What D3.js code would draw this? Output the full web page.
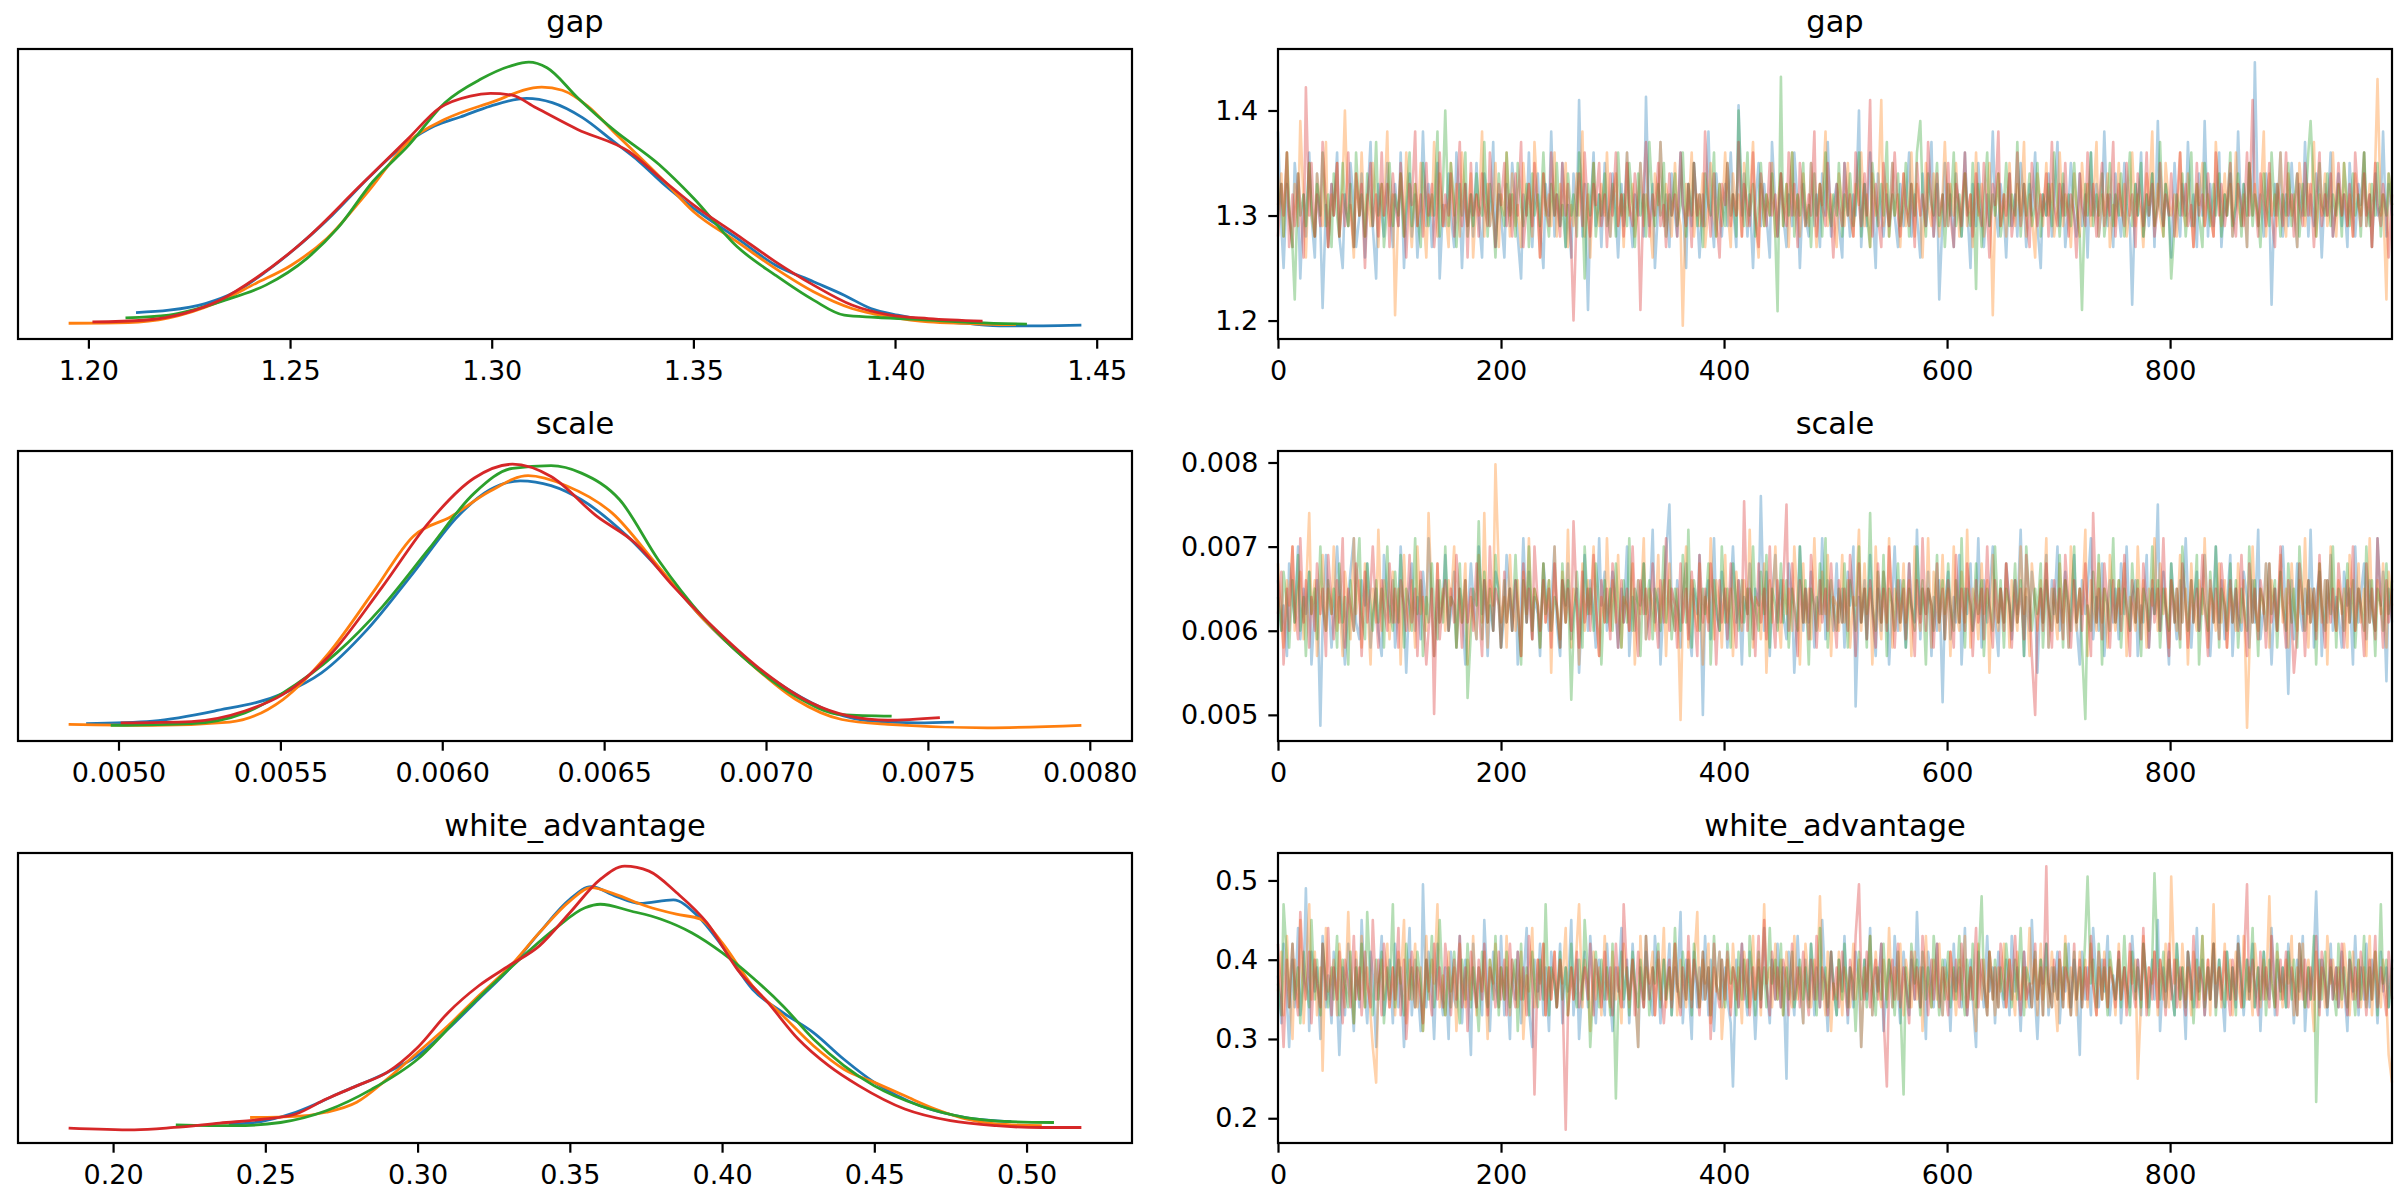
<!DOCTYPE html>
<html>
<head>
<meta charset="utf-8">
<script src="https://cdn.jsdelivr.net/npm/d3@7"></script>
<style>
  html, body { margin: 0; padding: 0; background: #fff; }
  svg { display: block; }
  text { font-family: "DejaVu Sans", sans-serif; fill: #000; }
</style>
</head>
<body>
<svg id="chart" width="2400" height="1200"></svg>
<script>
// ---------------- DATA ----------------
const paramNames = ["gap", "scale", "white_advantage"];
const chainColors = ["#1f77b4", "#ff7f0e", "#2ca02c", "#d62728"];
const nDraws = 1000;

// KDE curves per chain: [value, density]
const gapKde0 = [[1.2118,0.67],[1.220,0.78],[1.229,1.09],[1.2365,1.64],[1.244,2.58],[1.2504,3.52],[1.2605,5.23],[1.2694,6.95],[1.2795,8.67],[1.2858,9.38],[1.2922,9.80],[1.2997,10.31],[1.3086,10.67],[1.315,10.47],[1.3225,9.77],[1.3301,8.67],[1.3365,7.73],[1.3428,6.64],[1.35,5.55],[1.3608,4.14],[1.3703,2.89],[1.3798,2.11],[1.3874,1.48],[1.394,0.86],[1.4007,0.55],[1.4083,0.31],[1.4177,0.16],[1.4272,0.05],[1.4367,0.05],[1.4462,0.08]];
const gapKde1 = [[1.1951,0.17],[1.2099,0.20],[1.220,0.42],[1.2314,1.09],[1.2415,2.03],[1.2504,2.89],[1.2592,4.14],[1.2694,6.33],[1.2795,8.67],[1.2884,9.69],[1.2997,10.47],[1.3124,11.2],[1.3175,11.05],[1.3238,10.31],[1.3301,9.14],[1.3428,6.8],[1.35,5.39],[1.3608,3.98],[1.3703,2.73],[1.3798,1.64],[1.3893,0.86],[1.3988,0.47],[1.4083,0.23],[1.4177,0.16],[1.4272,0.11],[1.430,0.11]];
const gapKde2 = [[1.2092,0.42],[1.220,0.55],[1.2339,1.25],[1.244,1.95],[1.2542,3.2],[1.2618,4.61],[1.2706,6.8],[1.2795,8.5],[1.2884,10.47],[1.2972,11.56],[1.3048,12.19],[1.3092,12.36],[1.3137,12.1],[1.3213,10.7],[1.3301,9.22],[1.3415,7.58],[1.35,6.02],[1.3608,3.75],[1.3703,2.42],[1.3798,1.25],[1.3874,0.55],[1.395,0.45],[1.41,0.31],[1.42,0.2],[1.4327,0.13]];
const gapKde3 = [[1.201,0.23],[1.2137,0.31],[1.2238,0.63],[1.2327,1.25],[1.2415,2.27],[1.2542,4.14],[1.2668,6.48],[1.2795,8.83],[1.2871,10.23],[1.2947,10.78],[1.2997,10.9],[1.3048,10.83],[1.311,10.23],[1.3213,9.22],[1.3339,8.2],[1.3428,6.8],[1.35,5.7],[1.3608,4.3],[1.3703,3.05],[1.3798,1.95],[1.3893,1.02],[1.3988,0.55],[1.4083,0.39],[1.4217,0.27]];

const scaleKde0 = [[0.00490,23],[0.005106,33],[0.005296,72],[0.005508,140],[0.005627,221],[0.005768,390],[0.00591,611],[0.006052,838],[0.006147,936],[0.006241,971],[0.006336,952],[0.00643,897],[0.006572,754],[0.00669,598],[0.006808,429],[0.006927,286],[0.007068,156],[0.00721,65],[0.007328,33],[0.00747,26],[0.00758,29]];
const scaleKde1 = [[0.004846,20],[0.005106,16],[0.005343,29],[0.005508,117],[0.00565,299],[0.005792,546],[0.00591,754],[0.006028,832],[0.006147,930],[0.006265,991],[0.006383,952],[0.006525,845],[0.006667,637],[0.006808,429],[0.00695,260],[0.007092,117],[0.007234,39],[0.007376,20],[0.007683,6.5],[0.007974,16]];
const scaleKde2 = [[0.004976,16],[0.005225,23],[0.00539,65],[0.005508,143],[0.005674,299],[0.005816,481],[0.005957,702],[0.006099,923],[0.006217,1020],[0.006336,1030],[0.00643,1001],[0.006548,897],[0.006667,663],[0.006808,435],[0.00695,260],[0.007092,130],[0.007234,58],[0.007388,52]];
const scaleKde3 = [[0.005007,26],[0.005225,31],[0.00539,72],[0.005508,137],[0.00565,286],[0.005816,559],[0.005957,806],[0.006099,982],[0.006217,1036],[0.006336,988],[0.006478,832],[0.006596,728],[0.006714,559],[0.006856,377],[0.006997,221],[0.007139,104],[0.007257,52],[0.007376,36],[0.007537,46]];

const waKde0 = [[0.238,0.23],[0.245,0.26],[0.26,0.63],[0.275,1.31],[0.29,1.99],[0.30,2.56],[0.31,3.47],[0.32,4.49],[0.33,5.51],[0.34,6.76],[0.35,7.9],[0.357,8.33],[0.365,8.01],[0.373,7.76],[0.384,7.88],[0.392,7.33],[0.40,6.31],[0.41,4.83],[0.42,4.03],[0.43,3.35],[0.44,2.44],[0.45,1.65],[0.465,0.85],[0.48,0.45],[0.495,0.31]];
const waKde1 = [[0.245,0.45],[0.26,0.49],[0.27,0.63],[0.28,0.97],[0.29,1.76],[0.30,2.67],[0.31,3.58],[0.32,4.6],[0.33,5.57],[0.34,6.76],[0.35,7.84],[0.357,8.3],[0.365,8.07],[0.375,7.67],[0.385,7.39],[0.393,7.22],[0.40,6.42],[0.41,4.94],[0.42,3.92],[0.43,2.9],[0.44,2.1],[0.45,1.65],[0.46,1.19],[0.47,0.74],[0.48,0.4],[0.49,0.23],[0.505,0.17]];
const waKde2 = [[0.2206,0.2],[0.24,0.17],[0.255,0.28],[0.27,0.68],[0.285,1.42],[0.30,2.44],[0.315,4.03],[0.33,5.51],[0.345,6.88],[0.355,7.61],[0.36,7.73],[0.37,7.5],[0.38,7.22],[0.39,6.76],[0.40,6.08],[0.41,5.23],[0.42,4.26],[0.43,3.13],[0.44,2.22],[0.45,1.53],[0.465,0.85],[0.48,0.45],[0.495,0.31],[0.509,0.28]];
const waKde3 = [[0.1854,0.09],[0.207,0.03],[0.22,0.11],[0.235,0.26],[0.25,0.4],[0.26,0.57],[0.27,1.08],[0.28,1.53],[0.29,1.99],[0.30,2.84],[0.31,4.03],[0.32,4.94],[0.33,5.63],[0.34,6.31],[0.35,7.44],[0.36,8.58],[0.368,9.03],[0.376,8.86],[0.385,8.13],[0.395,7.1],[0.405,5.51],[0.415,4.38],[0.425,3.13],[0.435,2.22],[0.445,1.53],[0.46,0.74],[0.475,0.34],[0.49,0.17],[0.505,0.11],[0.518,0.11]];

const gapTrace0 = [1.38,1.29,1.25,1.33,1.30,1.27,1.35,1.31,1.24,1.32,1.28,1.36,1.30,1.26,1.34,1.29,1.212,1.31,1.27,1.33,
1.30,1.36,1.28,1.25,1.32,1.29,1.35,1.31,1.27,1.30,1.34,1.26,1.31,1.37,1.29,1.24,1.33,1.30,1.28,1.35,
1.31,1.27,1.33,1.29,1.36,1.25,1.30,1.34,1.28,1.32,1.26,1.31,1.38,1.29,1.33,1.27,1.30,1.35,1.24,1.31,
1.29,1.34,1.30,1.27,1.36,1.31,1.25,1.33,1.29,1.32,1.28,1.35,1.30,1.26,1.34,1.31,1.29,1.37,1.27,1.32,
1.30,1.26,1.33,1.29,1.35,1.31,1.28,1.24,1.32,1.30,1.36,1.27,1.31,1.34,1.29,1.25,1.33,1.30,1.38,1.28,
1.32,1.29,1.35,1.27,1.31,1.26,1.34,1.30,1.41,1.28,1.33,1.21,1.30,1.36,1.29,1.32,1.27,1.35,1.31,1.28,
1.34,1.30,1.26,1.33,1.29,1.36,1.31,1.27,1.32,1.30,1.35,1.28,1.413,1.29,1.33,1.25,1.31,1.37,1.29,1.32,
1.27,1.34,1.30,1.28,1.36,1.31,1.25,1.33,1.29,1.35,1.30,1.26,1.32,1.29,1.38,1.31,1.27,1.34,1.30,1.28,
1.33,1.29,1.36,1.31,1.27,1.405,1.30,1.34,1.28,1.32,1.25,1.31,1.35,1.29,1.33,1.30,1.26,1.37,1.31,1.28,
1.34,1.30,1.27,1.32,1.29,1.36,1.31,1.25,1.33,1.30,1.28,1.35,1.29,1.32,1.27,1.34,1.30,1.37,1.28,1.31,
1.33,1.29,1.26,1.35,1.31,1.28,1.32,1.30,1.40,1.27,1.33,1.29,1.36,1.31,1.25,1.34,1.30,1.28,1.32,1.29,
1.35,1.30,1.27,1.33,1.29,1.31,1.36,1.28,1.32,1.30,1.26,1.34,1.29,1.31,1.37,1.28,1.33,1.22,1.30,1.35,
1.29,1.32,1.27,1.34,1.30,1.28,1.36,1.31,1.25,1.33,1.29,1.35,1.30,1.27,1.32,1.29,1.38,1.31,1.28,1.33,
1.30,1.26,1.34,1.29,1.32,1.28,1.35,1.31,1.27,1.33,1.30,1.36,1.29,1.25,1.32,1.30,1.34,1.28,1.31,1.37,
1.29,1.33,1.27,1.31,1.35,1.30,1.28,1.34,1.29,1.32,1.26,1.36,1.30,1.33,1.28,1.31,1.38,1.29,1.32,1.27,
1.34,1.30,1.28,1.35,1.31,1.29,1.215,1.33,1.30,1.36,1.28,1.32,1.29,1.34,1.27,1.39,1.31,1.29,1.33,1.30,
1.26,1.35,1.31,1.28,1.33,1.30,1.37,1.29,1.32,1.27,1.34,1.30,1.39,1.28,1.33,1.29,1.31,1.36,1.27,1.32,
1.30,1.34,1.28,1.31,1.38,1.29,1.33,1.27,1.35,1.30,1.446,1.29,1.32,1.28,1.34,1.31,1.215,1.33,1.30,1.36,
1.28,1.32,1.29,1.35,1.31,1.27,1.33,1.30,1.37,1.28,1.32,1.29,1.34,1.31,1.26,1.33,1.30,1.36,1.28,1.31,
1.34,1.29,1.32,1.27,1.35,1.30,1.28,1.33,1.31,1.36,1.29,1.32,1.27,1.34,1.30,1.31,1.38,1.28,1.33,1.30];
const gapTrace1 = [1.31,1.34,1.28,1.36,1.30,1.27,1.33,1.29,1.39,1.31,1.26,1.35,1.30,1.28,1.34,1.31,1.29,1.37,1.27,1.32,
1.30,1.35,1.28,1.33,1.40,1.29,1.31,1.26,1.34,1.30,1.36,1.28,1.32,1.29,1.35,1.31,1.27,1.33,1.30,1.38,
1.29,1.32,1.205,1.31,1.34,1.28,1.36,1.30,1.27,1.33,1.29,1.35,1.31,1.26,1.32,1.30,1.37,1.28,1.34,1.29,
1.31,1.27,1.35,1.30,1.33,1.28,1.36,1.31,1.29,1.34,1.26,1.32,1.30,1.38,1.28,1.33,1.29,1.31,1.35,1.27,
1.32,1.30,1.36,1.28,1.34,1.29,1.31,1.27,1.35,1.30,1.33,1.28,1.37,1.31,1.26,1.34,1.30,1.32,1.29,1.36,
1.28,1.33,1.30,1.35,1.27,1.31,1.29,1.34,1.30,1.38,1.28,1.32,1.26,1.35,1.31,1.29,1.33,1.30,1.36,1.28,
1.31,1.34,1.29,1.32,1.27,1.36,1.30,1.33,1.28,1.31,1.35,1.29,1.32,1.30,1.26,1.34,1.31,1.37,1.29,1.33,
1.30,1.28,1.35,1.31,1.29,1.195,1.33,1.30,1.36,1.28,1.32,1.29,1.34,1.27,1.31,1.35,1.30,1.28,1.33,1.29,
1.36,1.31,1.27,1.34,1.30,1.32,1.28,1.35,1.29,1.31,1.37,1.30,1.26,1.33,1.29,1.32,1.30,1.35,1.28,1.31,
1.34,1.29,1.33,1.27,1.36,1.30,1.32,1.28,1.34,1.31,1.29,1.35,1.30,1.27,1.33,1.31,1.38,1.29,1.32,1.30,
1.27,1.34,1.31,1.29,1.35,1.30,1.28,1.33,1.31,1.36,1.29,1.32,1.27,1.34,1.30,1.31,1.41,1.29,1.33,1.28,
1.35,1.30,1.32,1.27,1.34,1.29,1.31,1.36,1.28,1.33,1.30,1.26,1.35,1.31,1.29,1.34,1.30,1.28,1.32,1.37,
1.29,1.33,1.30,1.35,1.28,1.31,1.34,1.29,1.32,1.27,1.36,1.30,1.33,1.28,1.31,1.35,1.205,1.30,1.34,1.29,
1.32,1.28,1.35,1.31,1.29,1.33,1.30,1.37,1.28,1.32,1.30,1.26,1.34,1.31,1.29,1.35,1.30,1.33,1.28,1.31,
1.36,1.29,1.32,1.30,1.27,1.34,1.31,1.28,1.35,1.30,1.33,1.29,1.31,1.37,1.28,1.32,1.30,1.34,1.27,1.31,
1.29,1.35,1.30,1.33,1.28,1.31,1.36,1.29,1.32,1.30,1.27,1.34,1.31,1.38,1.29,1.33,1.30,1.28,1.35,1.31,
1.30,1.32,1.28,1.36,1.31,1.29,1.34,1.30,1.27,1.33,1.31,1.35,1.29,1.32,1.30,1.28,1.37,1.31,1.29,1.34,
1.30,1.33,1.28,1.36,1.31,1.29,1.32,1.27,1.35,1.30,1.33,1.29,1.31,1.38,1.28,1.34,1.30,1.32,1.29,1.36,
1.31,1.28,1.34,1.30,1.32,1.27,1.35,1.31,1.29,1.33,1.30,1.37,1.28,1.32,1.30,1.34,1.29,1.31,1.36,1.28,
1.33,1.30,1.35,1.29,1.32,1.28,1.34,1.31,1.30,1.36,1.29,1.33,1.27,1.35,1.43,1.30,1.32,1.22,1.34,1.31];
const gapTrace2 = [1.30,1.33,1.28,1.36,1.31,1.27,1.22,1.34,1.30,1.32,1.29,1.35,1.31,1.28,1.33,1.30,1.36,1.29,1.32,1.27,
1.34,1.30,1.28,1.35,1.31,1.29,1.33,1.27,1.36,1.30,1.32,1.28,1.34,1.31,1.29,1.37,1.30,1.33,1.27,1.31,
1.35,1.29,1.32,1.30,1.34,1.28,1.31,1.36,1.29,1.33,1.30,1.27,1.35,1.31,1.29,1.32,1.30,1.38,1.28,1.33,
1.40,1.29,1.35,1.31,1.27,1.33,1.30,1.36,1.28,1.32,1.29,1.34,1.31,1.30,1.37,1.28,1.33,1.30,1.26,1.34,
1.31,1.29,1.36,1.30,1.32,1.28,1.35,1.31,1.29,1.33,1.27,1.34,1.30,1.32,1.29,1.36,1.31,1.28,1.33,1.30,
1.35,1.29,1.31,1.27,1.34,1.30,1.32,1.28,1.36,1.31,1.24,1.33,1.30,1.35,1.28,1.32,1.30,1.34,1.29,1.31,
1.33,1.28,1.36,1.30,1.32,1.29,1.35,1.31,1.27,1.34,1.30,1.32,1.28,1.37,1.31,1.29,1.33,1.30,1.35,1.28,
1.32,1.30,1.34,1.29,1.31,1.36,1.28,1.33,1.30,1.35,1.29,1.32,1.27,1.34,1.31,1.30,1.36,1.28,1.33,1.31,
1.29,1.35,1.30,1.32,1.28,1.40,1.31,1.29,1.36,1.30,1.33,1.28,1.31,1.35,1.29,1.32,1.30,1.34,1.28,1.209,
1.432,1.29,1.33,1.30,1.36,1.28,1.32,1.30,1.35,1.29,1.31,1.27,1.34,1.30,1.33,1.28,1.36,1.31,1.29,1.32,
1.30,1.35,1.28,1.32,1.30,1.34,1.29,1.31,1.36,1.28,1.33,1.30,1.27,1.35,1.31,1.29,1.33,1.30,1.37,1.28,
1.32,1.30,1.34,1.29,1.31,1.35,1.28,1.33,1.30,1.36,1.39,1.32,1.28,1.34,1.31,1.30,1.35,1.29,1.32,1.27,
1.33,1.30,1.36,1.29,1.32,1.28,1.34,1.31,1.29,1.35,1.23,1.33,1.27,1.31,1.36,1.29,1.32,1.30,1.34,1.28,
1.31,1.35,1.29,1.32,1.30,1.37,1.28,1.33,1.30,1.34,1.29,1.31,1.35,1.28,1.32,1.30,1.33,1.29,1.36,1.31,
1.28,1.34,1.30,1.32,1.29,1.35,1.31,1.28,1.21,1.33,1.30,1.36,1.29,1.32,1.30,1.34,1.28,1.31,1.35,1.29,
1.32,1.30,1.34,1.28,1.31,1.36,1.29,1.33,1.30,1.35,1.28,1.32,1.30,1.34,1.29,1.31,1.37,1.28,1.33,1.30,
1.24,1.29,1.32,1.30,1.34,1.28,1.31,1.36,1.29,1.33,1.30,1.27,1.35,1.31,1.29,1.33,1.30,1.34,1.28,1.32,
1.30,1.36,1.29,1.31,1.34,1.28,1.33,1.30,1.35,1.29,1.32,1.30,1.27,1.34,1.31,1.29,1.36,1.30,1.33,1.28,
1.32,1.30,1.35,1.29,1.31,1.34,1.28,1.33,1.30,1.36,1.39,1.32,1.28,1.35,1.31,1.30,1.34,1.29,1.32,1.30,
1.33,1.28,1.35,1.31,1.29,1.34,1.30,1.32,1.28,1.36,1.31,1.29,1.33,1.30,1.35,1.28,1.32,1.30,1.34,1.31];
const gapTrace3 = [1.28,1.33,1.30,1.36,1.27,1.32,1.29,1.34,1.31,1.26,1.422,1.30,1.35,1.28,1.32,1.29,1.37,1.31,1.27,1.33,
1.30,1.35,1.28,1.32,1.29,1.36,1.31,1.27,1.34,1.30,1.33,1.25,1.31,1.35,1.29,1.32,1.28,1.36,1.30,1.33,
1.27,1.34,1.31,1.29,1.35,1.30,1.26,1.33,1.31,1.38,1.29,1.32,1.28,1.35,1.30,1.33,1.27,1.31,1.36,1.29,
1.32,1.30,1.34,1.28,1.31,1.37,1.29,1.33,1.26,1.35,1.30,1.32,1.28,1.34,1.31,1.29,1.36,1.30,1.27,1.33,
1.31,1.35,1.29,1.32,1.28,1.34,1.30,1.37,1.27,1.31,1.33,1.29,1.35,1.30,1.26,1.34,1.31,1.29,1.36,1.30,
1.32,1.28,1.35,1.30,1.33,1.27,1.20,1.31,1.34,1.29,1.36,1.30,1.28,1.33,1.31,1.35,1.29,1.32,1.27,1.34,
1.30,1.36,1.29,1.32,1.28,1.35,1.31,1.29,1.34,1.30,1.21,1.33,1.37,1.28,1.32,1.30,1.35,1.29,1.31,1.27,
1.34,1.30,1.32,1.28,1.36,1.31,1.29,1.33,1.27,1.35,1.30,1.32,1.29,1.38,1.31,1.28,1.34,1.30,1.26,1.33,
1.31,1.35,1.29,1.32,1.30,1.37,1.28,1.33,1.31,1.29,1.36,1.30,1.27,1.34,1.31,1.29,1.35,1.30,1.32,1.28,
1.34,1.31,1.29,1.36,1.30,1.33,1.27,1.35,1.31,1.29,1.32,1.30,1.38,1.28,1.33,1.31,1.29,1.35,1.30,1.26,
1.33,1.31,1.29,1.35,1.30,1.32,1.28,1.36,1.31,1.29,1.34,1.30,1.41,1.28,1.33,1.30,1.27,1.35,1.31,1.29,
1.32,1.36,1.30,1.28,1.34,1.31,1.29,1.33,1.27,1.35,1.30,1.32,1.29,1.37,1.31,1.28,1.34,1.30,1.32,1.29,
1.35,1.30,1.27,1.33,1.31,1.29,1.36,1.30,1.32,1.28,1.34,1.31,1.29,1.35,1.30,1.26,1.33,1.31,1.38,1.29,
1.32,1.30,1.34,1.28,1.31,1.36,1.29,1.33,1.30,1.27,1.35,1.31,1.29,1.32,1.30,1.34,1.28,1.37,1.31,1.29,
1.33,1.30,1.35,1.28,1.32,1.30,1.26,1.34,1.31,1.29,1.36,1.30,1.33,1.28,1.31,1.35,1.29,1.32,1.30,1.37,
1.28,1.33,1.31,1.29,1.35,1.30,1.32,1.27,1.34,1.31,1.29,1.36,1.30,1.33,1.28,1.31,1.35,1.29,1.32,1.30,
1.34,1.28,1.31,1.36,1.30,1.33,1.29,1.31,1.27,1.35,1.30,1.32,1.29,1.34,1.31,1.28,1.36,1.30,1.33,1.29,
1.31,1.35,1.30,1.28,1.33,1.31,1.29,1.36,1.30,1.41,1.32,1.28,1.34,1.31,1.29,1.35,1.30,1.27,1.33,1.31,
1.29,1.36,1.30,1.32,1.28,1.34,1.31,1.29,1.35,1.30,1.33,1.27,1.31,1.36,1.29,1.32,1.30,1.34,1.28,1.31,
1.35,1.30,1.32,1.29,1.33,1.28,1.36,1.31,1.29,1.34,1.30,1.32,1.27,1.35,1.31,1.29,1.33,1.30,1.26,1.32];

const scaleTrace0 = [.0066,.0060,.0063,.0057,.0068,.0064,.0061,.0070,.0059,.0065,.0062,.0067,.0056,.0063,.0066,.00487,.0061,.0069,.0064,.0058,
.0062,.0070,.0065,.0060,.0056,.0064,.0067,.0071,.0061,.0059,.0066,.0063,.0068,.0058,.0062,.0065,.0060,.0057,.0069,.0064,
.0061,.0066,.0058,.0063,.0070,.0062,.0055,.0065,.0068,.0060,.0064,.0059,.0067,.0062,.0071,.0063,.0057,.0066,.0061,.0064,
.0069,.0060,.0062,.0067,.0058,.0065,.0063,.0056,.0061,.0068,.0064,.0059,.0070,.0062,.0066,.0057,.0063,.0060,.0067,.0065,
.0058,.0062,.0069,.0064,.0060,.0066,.0056,.0063,.0071,.0061,.0067,.0059,.0064,.0062,.0057,.0068,.0065,.0060,.0063,.0070,
.0061,.0057,.0066,.0063,.0068,.0059,.0062,.0065,.0055,.0064,.0069,.0060,.0066,.0062,.0058,.0071,.0063,.0067,.0060,.0064,
.0067,.0062,.0058,.0065,.0061,.0070,.0057,.0064,.0060,.0066,.0063,.0068,.0059,.0062,.0072,.0061,.0065,.0056,.0064,.0069,
.0075,.0063,.0060,.0066,.0058,.0064,.0068,.0061,.0057,.0065,.0062,.0069,.00500,.0063,.0066,.0059,.0071,.0062,.0060,.0067,
.0063,.0058,.0065,.0070,.0061,.0066,.0056,.0064,.0062,.0068,.0059,.0065,.0063,.0076,.0060,.0067,.0057,.0064,.0069,.0061,
.0066,.0062,.0059,.0068,.0064,.0055,.0063,.0070,.0060,.0065,.0061,.0067,.0058,.0064,.0062,.0071,.0059,.0066,.0063,.0060,
.0068,.0061,.0065,.0058,.0067,.0063,.0070,.00510,.0064,.0061,.0066,.0059,.0069,.0062,.0057,.0065,.0060,.0067,.0063,.0056,
.0064,.0070,.0060,.0066,.0062,.0058,.0068,.0063,.0061,.0072,.0059,.0065,.0062,.0067,.0057,.0064,.0060,.0066,.00515,.0063,
.0067,.0059,.0064,.0061,.0069,.0056,.0065,.0062,.0068,.0060,.0063,.0071,.0058,.0066,.0061,.0064,.0070,.0062,.0057,.0065,
.0061,.0068,.0063,.0059,.0066,.0062,.0072,.0057,.0064,.0060,.0067,.0063,.0055,.0065,.0061,.0069,.0058,.0066,.0062,.0070,
.0060,.0064,.0067,.0058,.0063,.0069,.0061,.0056,.0066,.0062,.0065,.0071,.0059,.0064,.0060,.0068,.0057,.0063,.0066,.0061,
.0065,.0059,.0068,.0062,.0070,.0060,.0064,.0066,.0057,.0063,.0061,.0069,.0058,.0065,.0062,.0075,.0060,.0067,.0063,.0056,
.0068,.0062,.0059,.0066,.0061,.0071,.0064,.0058,.0063,.0067,.0060,.0065,.0069,.0062,.0057,.0064,.0070,.0061,.0066,.0059,
.0063,.0069,.0057,.0065,.0062,.0060,.0067,.0064,.0058,.0066,.0061,.0072,.0059,.0063,.0068,.0062,.0056,.0065,.0060,.0067,
.0070,.0061,.00525,.0066,.0059,.0068,.0063,.0060,.0065,.0062,.0072,.0058,.0064,.0067,.0057,.0066,.0061,.0069,.0060,.0064,
.0062,.0058,.0067,.0063,.0065,.0056,.0070,.0061,.0064,.0068,.0059,.0066,.0062,.0060,.0071,.0063,.0067,.0054,.0065,.0061];
const scaleTrace1 = [.0068,.0061,.0058,.0066,.0063,.0070,.0060,.0065,.0067,.0059,.0064,.0074,.0062,.0066,.0057,.0063,.0069,.0060,.0065,.0062,
.0070,.0060,.0064,.0057,.0067,.0063,.0059,.0071,.0062,.0066,.0058,.0068,.0064,.0056,.0065,.0061,.0072,.0060,.0066,.0063,
.0059,.0067,.0061,.0065,.0056,.0069,.0063,.0060,.0066,.0058,.0070,.0062,.0064,.0060,.0074,.0063,.0057,.0068,.0061,.0065,
.0060,.0066,.0063,.0070,.0058,.0065,.0061,.0068,.0056,.0064,.0062,.0059,.0069,.0061,.0074,.0058,.0066,.0063,.00798,.0067,
.0061,.0064,.0058,.0069,.0063,.0060,.0066,.0057,.0067,.0062,.0071,.0059,.0065,.0063,.0058,.0068,.0061,.0066,.0055,.0070,
.0063,.0059,.0067,.0061,.0072,.0058,.0065,.0063,.0056,.0068,.0060,.0066,.0062,.0070,.0063,.0057,.0064,.0061,.0071,.0060,
.0066,.0061,.0069,.0058,.0064,.0063,.0060,.0068,.0056,.0066,.0062,.0071,.0059,.0065,.0063,.0060,.0069,.0061,.0066,.0057,
.0068,.0063,.0060,.0065,.00494,.0062,.0070,.0058,.0066,.0063,.0060,.0068,.0056,.0064,.0061,.0071,.0059,.0066,.0063,.0058,
.0069,.0061,.0065,.0057,.0067,.0063,.0060,.0066,.0062,.0072,.0058,.0064,.0063,.0059,.0068,.0055,.0066,.0061,.0070,.0063,
.0058,.0066,.0062,.0065,.0060,.0070,.0063,.0056,.0068,.0061,.0065,.0059,.0071,.0063,.0060,.0067,.0062,.0069,.0057,.0064,
.0063,.0060,.0069,.0061,.0066,.0058,.0064,.0063,.0072,.0060,.0068,.0062,.0065,.0056,.0070,.0063,.0059,.0067,.0061,.0071,
.0058,.0065,.0063,.0060,.0068,.0061,.0066,.0057,.0070,.0063,.0060,.0065,.0062,.0071,.0058,.0067,.0063,.0060,.0069,.0062,
.0065,.0057,.0070,.0063,.0060,.0067,.0061,.0072,.0058,.0065,.0063,.0059,.0068,.0062,.0066,.0055,.0069,.0063,.0060,.0065,
.0061,.0068,.0058,.0066,.0063,.0060,.0070,.0062,.0065,.0057,.0068,.0063,.0060,.0066,.0061,.0071,.0058,.0065,.0063,.0059,
.0068,.0061,.0066,.0058,.0070,.0063,.0060,.0065,.0062,.0072,.0057,.0066,.0063,.0060,.0068,.0061,.0065,.0058,.0069,.0063,
.0060,.0066,.0062,.0068,.0057,.0064,.0063,.0060,.0070,.0061,.0066,.0058,.0065,.0063,.0071,.0060,.0068,.0062,.0065,.0058,
.0066,.0063,.0060,.0069,.0061,.0065,.0056,.0068,.0063,.0060,.0066,.0062,.0071,.0058,.0065,.0063,.0060,.0068,.0061,.0066,
.0058,.0065,.0063,.0060,.0068,.0061,.0066,.004846,.0057,.0070,.0063,.0060,.0065,.0062,.0068,.0058,.0066,.0063,.0060,.0069,
.0061,.0065,.0058,.0068,.0063,.0060,.0066,.0062,.0071,.0058,.0065,.0063,.0060,.0068,.0061,.0066,.0056,.0070,.0063,.0060,
.0066,.0062,.0065,.0058,.0069,.0063,.0060,.0068,.0061,.0065,.0057,.0071,.0063,.0060,.0066,.0062,.0068,.0058,.0067,.0063];
const scaleTrace2 = [.0064,.0060,.0067,.0063,.0058,.0066,.0061,.0069,.0060,.0064,.0057,.0067,.0062,.0065,.0059,.0070,.0063,.0060,.0066,.0062,
.0065,.0058,.0068,.0061,.0064,.0056,.0066,.0060,.0065,.0071,.0062,.0059,.0068,.0063,.0060,.0066,.0061,.0065,.0058,.0070,
.0063,.0060,.0067,.0061,.0069,.0058,.0065,.0063,.0060,.0071,.0062,.0066,.0057,.0064,.0061,.0068,.0063,.0059,.0066,.0061,
.0070,.0060,.0064,.0063,.0058,.0068,.0061,.0066,.00520,.0060,.0065,.0063,.0073,.0059,.0067,.0061,.0065,.0060,.0069,.0063,
.0058,.0066,.0061,.0065,.0060,.0069,.0063,.0056,.0066,.0061,.0070,.0060,.0065,.0063,.0058,.0068,.0062,.0066,.0060,.0064,
.0063,.0058,.0068,.0061,.0066,.00518,.0060,.0067,.0063,.0058,.0070,.0062,.0065,.0060,.0068,.0063,.0056,.0066,.0061,.0065,
.0060,.0068,.0063,.0058,.0066,.0061,.0071,.0060,.0065,.0063,.0057,.0068,.0062,.0066,.0059,.0065,.0063,.0060,.0070,.0061,
.0066,.0059,.0065,.0063,.0060,.0069,.0061,.0072,.0058,.0066,.0063,.0060,.0065,.0062,.0068,.0056,.0066,.0063,.0060,.0070,
.0061,.0065,.0058,.0068,.0063,.0060,.0066,.0061,.0065,.0057,.0070,.0063,.0060,.0067,.0062,.0069,.0058,.0065,.0063,.0060,
.0068,.0061,.0066,.0058,.0065,.0063,.0060,.0070,.0061,.0066,.0056,.0065,.0063,.0060,.0068,.0062,.0071,.0058,.0066,.0063,
.0060,.0065,.0061,.0068,.0058,.0066,.0063,.0060,.0070,.0061,.0065,.0058,.0074,.0063,.0060,.0067,.0061,.0069,.0057,.0065,
.0063,.0060,.0068,.0061,.0066,.0058,.0065,.0063,.0060,.0070,.0062,.0066,.0056,.0065,.0063,.0060,.0069,.0061,.0066,.0059,
.0068,.0063,.0060,.0066,.0061,.0071,.0058,.0065,.0063,.0060,.0068,.0062,.0066,.0057,.0065,.0063,.0060,.0070,.0061,.0066,
.0058,.0065,.0063,.0060,.0068,.0061,.0066,.0057,.0070,.0063,.0060,.0065,.0062,.0068,.0058,.0066,.0063,.0060,.0065,.0061,
.0069,.0058,.0066,.0063,.0060,.0070,.0061,.0065,.0058,.00495,.0063,.0060,.0067,.0061,.0069,.0056,.0065,.0063,.0060,.0071,
.0061,.0066,.0058,.0065,.0063,.0060,.0068,.0061,.0066,.0057,.0065,.0063,.0060,.0070,.0062,.0066,.0058,.0065,.0063,.0060,
.0068,.0061,.0065,.0058,.0070,.0063,.0060,.0066,.0061,.0069,.0056,.0065,.0063,.0060,.0067,.0061,.0070,.0058,.0065,.0063,
.0060,.0068,.0061,.0066,.0058,.0065,.0063,.0060,.0070,.0061,.0066,.0057,.0065,.0063,.0060,.0068,.0062,.0066,.0058,.0067,
.0063,.0060,.0068,.0061,.0065,.0058,.0070,.0063,.0060,.0066,.0061,.0065,.0056,.0068,.0063,.0060,.0066,.0062,.0070,.0058,
.0065,.0063,.0060,.0068,.0061,.0066,.0058,.0065,.0063,.0060,.0070,.0061,.0066,.0057,.0065,.0063,.0060,.0068,.0062,.0066];
const scaleTrace3 = [.0062,.0067,.0056,.0065,.0060,.0070,.0063,.0059,.0071,.0061,.0066,.0058,.0064,.0060,.0068,.0062,.0065,.0057,.0069,.0063,
.0059,.0066,.0061,.0071,.0058,.0065,.0063,.0060,.0068,.0064,.0057,.0067,.0061,.0065,.0070,.0062,.0058,.0066,.0063,.0060,
.0068,.0061,.0065,.0058,.0066,.0063,.0060,.0069,.0061,.0065,.0057,.0067,.0063,.0056,.0060,.0065,.00501,.0068,.0059,.0064,
.0066,.0060,.0065,.0061,.0069,.0063,.0058,.0066,.0061,.0065,.0060,.0068,.0063,.0057,.0066,.0061,.0070,.0060,.0065,.0063,
.0058,.0067,.0061,.0065,.0060,.0066,.0063,.0057,.0068,.0061,.0065,.0059,.0070,.0063,.0060,.0066,.0061,.0065,.0058,.0068,
.0063,.0058,.0066,.0061,.0065,.0060,.0073,.0063,.0058,.0067,.0061,.0065,.0060,.0069,.0063,.0057,.0066,.0061,.0065,.0059,
.0068,.0063,.0058,.0066,.0061,.0065,.0060,.0070,.0063,.0057,.0066,.0062,.0065,.0059,.0068,.0063,.0058,.0066,.0061,.0071,
.0060,.0065,.0063,.0058,.0068,.0061,.0065,.0059,.0067,.0063,.0057,.0069,.0061,.0065,.0060,.0068,.0063,.0056,.0066,.0061,
.0065,.0059,.0068,.0063,.0058,.0066,.0061,.00754,.0060,.0065,.0063,.0057,.0068,.0061,.0065,.0059,.0070,.0063,.0058,.0066,
.0061,.0065,.0075,.0060,.0068,.0063,.0057,.0066,.0061,.0065,.0059,.0069,.0063,.0058,.0066,.0061,.0065,.0060,.0068,.0063,
.0058,.0066,.0061,.0065,.0060,.0069,.0063,.0057,.0068,.0061,.0065,.0059,.0066,.0063,.0058,.0068,.0061,.0065,.0060,.0070,
.0063,.0058,.0066,.0061,.0065,.0059,.0068,.0063,.0057,.0066,.0061,.0071,.0060,.0065,.0063,.0058,.0068,.0061,.0065,.0059,
.0066,.0063,.0058,.0069,.0061,.0065,.0060,.0068,.0063,.0057,.0066,.0061,.0065,.0059,.0070,.0063,.0058,.0066,.0061,.0065,
.0060,.0068,.0063,.0058,.0066,.0061,.0065,.0059,.0069,.0063,.0057,.00500,.0061,.0065,.0060,.0068,.0063,.0058,.0066,.0061,
.0065,.0059,.0069,.0063,.0058,.0066,.0061,.0065,.0060,.0068,.0063,.0057,.0074,.0061,.0065,.0059,.0068,.0063,.0058,.0066,
.0061,.0065,.0060,.0069,.0063,.0057,.0066,.0061,.0065,.0059,.0068,.0063,.0058,.0066,.0061,.0065,.0060,.0071,.0063,.0057,
.0066,.0061,.0065,.0059,.0068,.0063,.0058,.0066,.0061,.0065,.0060,.0069,.0063,.0057,.0066,.0061,.0065,.0059,.0068,.0063,
.0058,.0066,.0061,.0065,.0060,.0069,.0063,.0057,.0068,.0061,.0065,.0059,.0066,.0063,.0058,.0068,.0061,.0065,.0060,.0070,
.0063,.0058,.0066,.0061,.0055,.0060,.0068,.0063,.0057,.0066,.0061,.0065,.0059,.0069,.0063,.0058,.0066,.0061,.0065,.0060,
.0068,.0063,.0058,.0066,.0061,.0070,.0060,.0065,.0063,.0057,.0068,.0061,.0065,.0059,.0071,.0063,.0058,.0066,.0061,.0065];

const waTrace0 = [.38,.32,.42,.35,.29,.40,.34,.44,.33,.37,.49,.31,.41,.36,.39,.30,.43,.34,.38,.32,
.41,.35,.28,.39,.33,.42,.37,.31,.40,.34,.45,.36,.32,.41,.38,.29,.36,.43,.33,.37,
.40,.32,.42,.34,.39,.29,.36,.44,.33,.40,.37,.31,.495,.34,.41,.36,.30,.42,.37,.33,
.39,.30,.41,.35,.34,.43,.32,.40,.37,.28,.42,.34,.39,.33,.45,.36,.31,.41,.37,.34,
.43,.33,.39,.30,.40,.35,.41,.32,.37,.44,.34,.29,.40,.36,.42,.33,.39,.31,.41,.37,
.34,.42,.32,.39,.36,.45,.33,.40,.30,.37,.41,.34,.43,.36,.32,.40,.37,.33,.42,.35,
.31,.39,.36,.44,.34,.40,.32,.42,.37,.29,.39,.34,.41,.36,.33,.43,.37,.32,.40,.35,
.42,.33,.39,.36,.46,.32,.40,.37,.30,.41,.34,.39,.35,.43,.33,.40,.31,.37,.41,.34,
.39,.35,.32,.24,.40,.34,.42,.37,.33,.41,.36,.30,.39,.34,.44,.37,.32,.40,.35,.42,
.34,.39,.25,.41,.36,.33,.43,.37,.32,.40,.35,.42,.33,.39,.34,.45,.36,.31,.41,.37,
.33,.40,.36,.43,.32,.39,.34,.41,.37,.29,.40,.35,.44,.33,.39,.36,.42,.31,.37,.40,
.34,.43,.36,.32,.41,.37,.33,.40,.35,.46,.34,.39,.30,.41,.37,.34,.42,.36,.33,.40,
.37,.31,.42,.36,.39,.34,.44,.33,.40,.35,.29,.41,.37,.34,.43,.36,.39,.32,.41,.37,
.34,.40,.33,.43,.36,.39,.31,.41,.37,.34,.45,.35,.30,.40,.37,.42,.33,.39,.36,.41,
.32,.39,.36,.42,.34,.40,.37,.28,.41,.35,.39,.33,.44,.37,.34,.40,.36,.43,.33,.38,
.35,.41,.32,.39,.37,.34,.43,.36,.40,.33,.42,.37,.34,.40,.35,.45,.31,.39,.36,.41,
.37,.33,.42,.35,.39,.30,.41,.37,.34,.44,.36,.40,.33,.39,.35,.42,.34,.40,.37,.31,
.41,.35,.39,.34,.43,.37,.33,.40,.36,.42,.34,.39,.31,.41,.37,.35,.44,.33,.40,.36,
.39,.34,.42,.37,.32,.40,.36,.43,.31,.39,.35,.41,.486,.34,.40,.37,.33,.42,.35,.39,
.34,.41,.37,.31,.40,.36,.43,.33,.39,.35,.42,.34,.40,.37,.32,.41,.36,.39,.34,.40];
const waTrace1 = [.36,.41,.33,.43,.37,.30,.40,.34,.45,.32,.38,.47,.35,.41,.33,.39,.26,.44,.36,.38,
.40,.33,.42,.37,.34,.46,.38,.32,.41,.35,.43,.34,.39,.33,.29,.245,.37,.40,.35,.42,
.34,.39,.33,.41,.37,.45,.32,.40,.35,.42,.34,.39,.31,.43,.36,.40,.37,.47,.34,.38,
.33,.41,.36,.39,.31,.42,.37,.34,.40,.35,.43,.33,.39,.36,.41,.30,.40,.37,.42,.34,
.39,.35,.43,.33,.40,.37,.34,.41,.30,.38,.36,.44,.34,.40,.37,.42,.33,.39,.35,.41,
.34,.40,.37,.44,.33,.39,.35,.42,.47,.34,.40,.37,.31,.41,.35,.39,.33,.43,.37,.34,
.41,.35,.39,.32,.42,.37,.34,.40,.36,.29,.43,.34,.39,.37,.41,.33,.40,.35,.44,.34,
.39,.35,.42,.33,.40,.37,.34,.41,.35,.39,.46,.34,.40,.37,.42,.32,.39,.36,.41,.30,
.37,.40,.34,.42,.35,.39,.32,.41,.37,.34,.43,.35,.40,.33,.47,.37,.39,.34,.42,.35,
.40,.33,.41,.37,.34,.43,.35,.39,.32,.42,.37,.34,.40,.35,.48,.38,.33,.41,.31,.37,
.35,.41,.33,.39,.37,.34,.42,.35,.40,.29,.39,.36,.43,.33,.41,.37,.34,.40,.35,.44,
.34,.39,.35,.42,.33,.40,.37,.34,.41,.35,.39,.31,.43,.37,.34,.40,.35,.42,.33,.39,
.35,.41,.37,.33,.40,.35,.43,.34,.39,.37,.31,.42,.35,.40,.34,.41,.37,.33,.39,.36,
.42,.34,.40,.37,.33,.41,.35,.39,.34,.44,.37,.40,.33,.42,.35,.39,.34,.41,.37,.31,
.40,.35,.43,.34,.39,.37,.33,.41,.35,.40,.34,.42,.37,.33,.39,.35,.41,.34,.40,.37,
.33,.42,.35,.39,.34,.41,.37,.40,.25,.35,.43,.34,.39,.37,.41,.33,.40,.35,.42,.34,
.505,.37,.40,.34,.42,.35,.39,.33,.41,.37,.34,.43,.35,.40,.33,.47,.37,.39,.34,.42,
.35,.40,.33,.41,.37,.34,.43,.35,.39,.33,.42,.37,.34,.40,.35,.48,.38,.34,.41,.37,
.34,.40,.37,.43,.33,.39,.35,.42,.34,.40,.37,.31,.41,.35,.39,.34,.43,.37,.40,.35,
.39,.34,.42,.37,.33,.41,.35,.40,.34,.39,.35,.43,.33,.41,.37,.34,.40,.35,.28,.245];
const waTrace2 = [.37,.33,.47,.40,.34,.42,.35,.39,.32,.41,.37,.34,.45,.35,.40,.33,.42,.37,.34,.39,
.35,.43,.33,.40,.37,.34,.41,.32,.39,.35,.42,.34,.46,.37,.33,.40,.35,.41,.32,.39,
.35,.47,.34,.40,.37,.33,.42,.35,.39,.34,.41,.37,.31,.40,.35,.43,.34,.39,.45,.35,
.33,.39,.34,.41,.37,.32,.40,.35,.42,.34,.39,.35,.31,.41,.37,.34,.40,.35,.43,.33,
.39,.35,.41,.34,.37,.40,.31,.42,.35,.39,.33,.41,.37,.34,.40,.35,.47,.33,.39,.37,
.34,.41,.35,.39,.33,.42,.37,.34,.40,.35,.45,.38,.29,.37,.41,.34,.40,.35,.39,.33,
.42,.225,.34,.41,.35,.39,.33,.41,.37,.34,.40,.35,.43,.33,.39,.37,.42,.34,.40,.35,
.39,.33,.44,.37,.34,.41,.35,.40,.33,.42,.37,.34,.41,.35,.39,.33,.43,.37,.35,.40,
.34,.42,.37,.39,.33,.41,.35,.40,.34,.43,.37,.33,.41,.35,.39,.34,.44,.37,.40,.35,
.42,.33,.39,.35,.41,.34,.37,.40,.35,.39,.34,.42,.37,.33,.44,.35,.39,.34,.41,.37,
.33,.40,.35,.42,.34,.39,.37,.31,.41,.35,.40,.34,.43,.37,.33,.39,.35,.42,.34,.40,
.37,.33,.41,.35,.23,.39,.34,.42,.37,.40,.33,.41,.35,.39,.34,.43,.37,.33,.40,.35,
.41,.34,.39,.35,.43,.37,.33,.40,.35,.42,.34,.39,.48,.37,.33,.41,.35,.40,.34,.39,
.35,.42,.37,.34,.40,.35,.44,.33,.39,.37,.34,.41,.35,.40,.33,.42,.37,.34,.39,.35,
.40,.34,.42,.37,.33,.41,.35,.39,.34,.43,.505,.37,.40,.34,.42,.35,.39,.33,.41,.37,
.35,.40,.34,.43,.37,.33,.41,.35,.39,.34,.42,.37,.33,.40,.509,.39,.35,.41,.34,.40,
.37,.33,.42,.35,.39,.34,.41,.37,.32,.40,.35,.43,.34,.39,.35,.42,.33,.40,.37,.34,
.41,.35,.39,.33,.42,.37,.34,.40,.35,.44,.34,.39,.35,.41,.33,.40,.37,.34,.42,.35,
.39,.34,.41,.35,.40,.33,.42,.37,.34,.39,.35,.43,.2206,.40,.35,.41,.34,.39,.37,.33,
.42,.35,.39,.34,.41,.37,.33,.40,.35,.43,.34,.39,.35,.41,.33,.47,.37,.40,.34,.39];
const waTrace3 = [.42,.35,.29,.40,.34,.42,.37,.33,.46,.38,.35,.41,.32,.40,.37,.34,.42,.35,.44,.33,
.39,.35,.41,.32,.40,.37,.34,.43,.35,.39,.33,.41,.37,.34,.45,.35,.40,.33,.42,.37,
.34,.39,.35,.44,.33,.40,.30,.37,.41,.34,.39,.35,.32,.40,.37,.33,.42,.35,.39,.34,
.42,.37,.33,.40,.35,.43,.34,.39,.31,.41,.37,.34,.40,.35,.42,.33,.39,.37,.34,.41,
.35,.40,.33,.42,.37,.34,.41,.35,.39,.33,.43,.37,.23,.40,.35,.42,.33,.39,.35,.41,
.34,.40,.37,.1854,.33,.39,.35,.41,.34,.37,.39,.35,.42,.33,.40,.37,.34,.41,.35,.39,
.33,.42,.37,.34,.47,.38,.35,.40,.33,.41,.37,.34,.43,.35,.39,.33,.41,.37,.32,.36,
.40,.34,.42,.37,.33,.39,.35,.43,.34,.40,.37,.33,.41,.35,.39,.30,.42,.37,.34,.40,
.35,.41,.33,.39,.37,.34,.42,.35,.40,.33,.39,.35,.43,.34,.45,.37,.33,.41,.35,.39,
.34,.40,.37,.33,.42,.35,.39,.34,.41,.37,.33,.40,.35,.43,.34,.39,.37,.33,.41,.35,
.39,.34,.41,.37,.33,.40,.35,.43,.495,.38,.35,.41,.34,.37,.40,.35,.42,.33,.24,.37,
.40,.35,.42,.34,.39,.37,.32,.41,.35,.39,.34,.43,.37,.33,.40,.35,.42,.34,.39,.37,
.33,.41,.35,.40,.34,.42,.37,.33,.39,.35,.44,.34,.40,.37,.33,.41,.35,.39,.34,.42,
.37,.34,.40,.35,.43,.38,.33,.41,.35,.37,.34,.42,.35,.39,.33,.518,.37,.34,.40,.35,
.41,.34,.39,.37,.33,.42,.35,.40,.34,.39,.35,.43,.37,.33,.41,.35,.40,.34,.39,.37,
.34,.41,.35,.39,.33,.42,.37,.34,.40,.35,.44,.33,.39,.35,.41,.34,.40,.37,.33,.42,
.35,.40,.34,.39,.37,.33,.41,.35,.43,.34,.39,.37,.33,.40,.35,.42,.34,.39,.35,.41,
.37,.33,.40,.35,.42,.34,.39,.495,.35,.40,.37,.33,.41,.35,.39,.34,.43,.37,.33,.40,
.35,.41,.34,.39,.37,.33,.42,.35,.40,.34,.39,.35,.43,.33,.41,.37,.34,.40,.35,.39,
.34,.42,.37,.33,.40,.35,.39,.34,.41,.37,.33,.40,.35,.43,.34,.39,.37,.33,.41,.35];

// Tick labels
const gapKdeTicks = [1.20, 1.25, 1.30, 1.35, 1.40, 1.45];
const scaleKdeTicks = [0.0050, 0.0055, 0.0060, 0.0065, 0.0070, 0.0075, 0.0080];
const waKdeTicks = [0.20, 0.25, 0.30, 0.35, 0.40, 0.45, 0.50];
const gapTraceTicks = [1.2, 1.3, 1.4];
const scaleTraceTicks = [0.005, 0.006, 0.007, 0.008];
const waTraceTicks = [0.2, 0.3, 0.4, 0.5];
const drawTicks = [0, 200, 400, 600, 800];

// ---------------- DRAW ----------------
const panels = [
  { name: paramNames[0], kde: [gapKde0, gapKde1, gapKde2, gapKde3], trace: [gapTrace0, gapTrace1, gapTrace2, gapTrace3],
    kdeTicks: gapKdeTicks, kdeFmt: d3.format(".2f"), traceTicks: gapTraceTicks, traceFmt: d3.format(".1f") },
  { name: paramNames[1], kde: [scaleKde0, scaleKde1, scaleKde2, scaleKde3], trace: [scaleTrace0, scaleTrace1, scaleTrace2, scaleTrace3],
    kdeTicks: scaleKdeTicks, kdeFmt: d3.format(".4f"), traceTicks: scaleTraceTicks, traceFmt: d3.format(".3f") },
  { name: paramNames[2], kde: [waKde0, waKde1, waKde2, waKde3], trace: [waTrace0, waTrace1, waTrace2, waTrace3],
    kdeTicks: waKdeTicks, kdeFmt: d3.format(".2f"), traceTicks: waTraceTicks, traceFmt: d3.format(".1f") }
];

const svg = d3.select("#chart");
const L = { x0: 18, x1: 1132 }, R = { x0: 1278, x1: 2392 };
const rowTops = [49, 451, 853], panelH = 290;
const tickFont = 27, titleFont = 30.5, spineW = 2.2, tickLen = 9.7;

function padExtent(ext, f = 0.05) {
  const r = ext[1] - ext[0];
  return [ext[0] - r * f, ext[1] + r * f];
}

function frame(g, x0, y0, w, h) {
  g.append("rect").attr("x", x0).attr("y", y0).attr("width", w).attr("height", h)
    .attr("fill", "none").attr("stroke", "#000").attr("stroke-width", spineW);
}

function styleAxis(g) {
  g.select(".domain").remove();
  g.selectAll(".tick line").attr("stroke", "#000").attr("stroke-width", spineW);
  g.selectAll(".tick text").attr("font-size", tickFont).attr("font-family", "DejaVu Sans, sans-serif").attr("fill", "#000");
}

panels.forEach((p, i) => {
  const top = rowTops[i], bottom = top + panelH;

  // ---- KDE panel ----
  const allK = p.kde.flat();
  const xK = d3.scaleLinear().domain(padExtent(d3.extent(allK, d => d[0]))).range([L.x0, L.x1]);
  const yK = d3.scaleLinear().domain(padExtent(d3.extent(allK, d => d[1]))).range([bottom, top]);
  const gK = svg.append("g");
  const lineK = d3.line().x(d => xK(d[0])).y(d => yK(d[1])).curve(d3.curveMonotoneX);
  p.kde.forEach((c, ci) => {
    gK.append("path").attr("d", lineK(c)).attr("fill", "none")
      .attr("stroke", chainColors[ci]).attr("stroke-width", 2.8).attr("stroke-linejoin", "round");
  });
  const axK = svg.append("g").attr("transform", `translate(0,${bottom})`)
    .call(d3.axisBottom(xK).tickValues(p.kdeTicks).tickFormat(p.kdeFmt).tickSize(tickLen).tickPadding(12));
  styleAxis(axK);
  frame(svg, L.x0, top, L.x1 - L.x0, panelH);
  svg.append("text").attr("x", (L.x0 + L.x1) / 2).attr("y", top - 17)
    .attr("text-anchor", "middle").attr("font-size", titleFont).text(p.name);

  // ---- Trace panel ----
  const allT = p.trace.flat();
  const xT = d3.scaleLinear().domain([0, nDraws - 1]).range([R.x0, R.x1]);
  const yT = d3.scaleLinear().domain(padExtent(d3.extent(allT))).range([bottom, top]);
  const gT = svg.append("g");
  p.trace.forEach((c, ci) => {
    const n = c.length;
    const lineT = d3.line().x((d, k) => xT(Math.round(k * (nDraws - 1) / (n - 1)))).y(d => yT(d));
    gT.append("path").attr("d", lineT(c)).attr("fill", "none")
      .attr("stroke", chainColors[ci]).attr("stroke-opacity", 0.35).attr("stroke-width", 2.6)
      .attr("stroke-linejoin", "round");
  });
  const axTx = svg.append("g").attr("transform", `translate(0,${bottom})`)
    .call(d3.axisBottom(xT).tickValues(drawTicks).tickFormat(d3.format("d")).tickSize(tickLen).tickPadding(12));
  styleAxis(axTx);
  const axTy = svg.append("g").attr("transform", `translate(${R.x0},0)`)
    .call(d3.axisLeft(yT).tickValues(p.traceTicks).tickFormat(p.traceFmt).tickSize(tickLen).tickPadding(10));
  styleAxis(axTy);
  frame(svg, R.x0, top, R.x1 - R.x0, panelH);
  svg.append("text").attr("x", (R.x0 + R.x1) / 2).attr("y", top - 17)
    .attr("text-anchor", "middle").attr("font-size", titleFont).text(p.name);
});
</script>
</body>
</html>
